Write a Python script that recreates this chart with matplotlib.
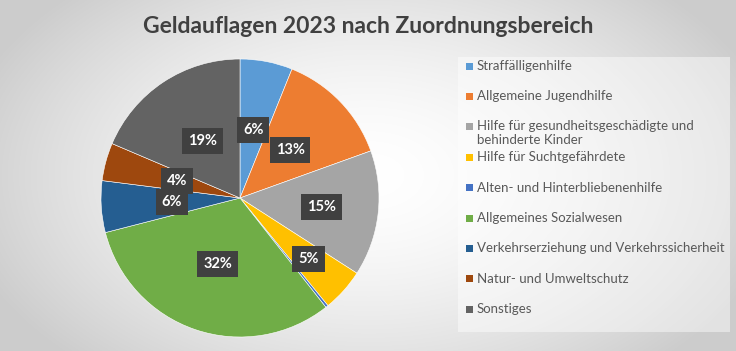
import matplotlib.pyplot as plt
import numpy as np

# Geldauflagen 2023 nach Zuordnungsbereich (Anteile in %, aus dem Bild geschaetzt)
kategorien = [
    "Straffälligenhilfe",
    "Allgemeine Jugendhilfe",
    "Hilfe für gesundheitsgeschädigte und\nbehinderte Kinder",
    "Hilfe für Suchtgefährdete",
    "Alten- und Hinterbliebenenhilfe",
    "Allgemeines Sozialwesen",
    "Verkehrserziehung und Verkehrssicherheit",
    "Natur- und Umweltschutz",
    "Sonstiges",
]
anteile = [6.1, 13.4, 14.6, 5.0, 0.3, 31.6, 6.0, 4.4, 18.6]
farben = ["#5B9BD5", "#ED7D31", "#A5A5A5", "#FFC000", "#4472C4",
          "#70AD47", "#255E91", "#9E480E", "#636363"]
# Abstand der Prozent-Beschriftung vom Mittelpunkt (None = keine Beschriftung)
label_abstand = [0.5, 0.5, 0.59, 0.66, None, 0.5, 0.49, 0.47, 0.49]

plt.rcParams['font.family'] = ['Lato', 'DejaVu Sans']

W, H = 736, 351
fig = plt.figure(figsize=(W / 100, H / 100), dpi=100)

# Hintergrund: radialer Verlauf
bg = fig.add_axes([0, 0, 1, 1])
yy, xx = np.mgrid[0:H, 0:W]
d = np.sqrt(((xx - 368) / 420) ** 2 + ((yy - 175) / 260) ** 2)
g = 1.0 - 0.20 * np.clip(d, 0, 1) ** 1.6
bg.imshow(np.dstack([g, g, g]), aspect='auto', extent=[0, 1, 0, 1])
bg.axis('off')

fig.text(0.5, 0.925, "Geldauflagen 2023 nach Zuordnungsbereich",
         ha='center', va='center', fontsize=16.5, fontweight='bold', color='#404040')

# Kreisdiagramm
cx, cy, r = 240, 198, 139
ax = fig.add_axes([(cx - r) / W, (H - cy - r) / H, 2 * r / W, 2 * r / H])
wedges, _ = ax.pie(anteile, colors=farben, startangle=90, counterclock=False,
                   wedgeprops=dict(edgecolor='white', linewidth=0.4))
ax.set_xlim(-1, 1)
ax.set_ylim(-1, 1)
ax.set_aspect('equal')
ax.axis('off')

gesamt = sum(anteile)
for w, wert, dist in zip(wedges, anteile, label_abstand):
    if dist is None:
        continue
    ang = np.deg2rad((w.theta1 + w.theta2) / 2)
    ax.text(dist * np.cos(ang), dist * np.sin(ang), "{:.0f}%".format(wert / gesamt * 100),
            ha='center', va='center', color='white', fontsize=10.5, fontweight='bold',
            bbox=dict(boxstyle='square,pad=0.4', fc='#404040', ec='none'))

# Legende
lx0, ly0, lx1, ly1 = 458, 57, 730, 332
fig.patches.append(plt.Rectangle((lx0 / W, 1 - ly1 / H), (lx1 - lx0) / W, (ly1 - ly0) / H,
                                 transform=fig.transFigure, fc='white', alpha=0.45, ec='none'))
schritt = 30.4
for i, (name, farbe) in enumerate(zip(kategorien, farben)):
    y = 66 + i * schritt
    fig.patches.append(plt.Rectangle((466 / W, 1 - (y + 3.5) / H), 7 / W, 7 / H,
                                     transform=fig.transFigure, fc=farbe, ec='none'))
    if '\n' in name:
        fig.text(477 / W, 1 - (y - 7) / H, name, ha='left', va='top',
                 fontsize=9.5, color='#595959', linespacing=1.25)
    else:
        fig.text(477 / W, 1 - y / H, name, ha='left', va='center',
                 fontsize=9.5, color='#595959')

fig.savefig("out.png", dpi=100)
